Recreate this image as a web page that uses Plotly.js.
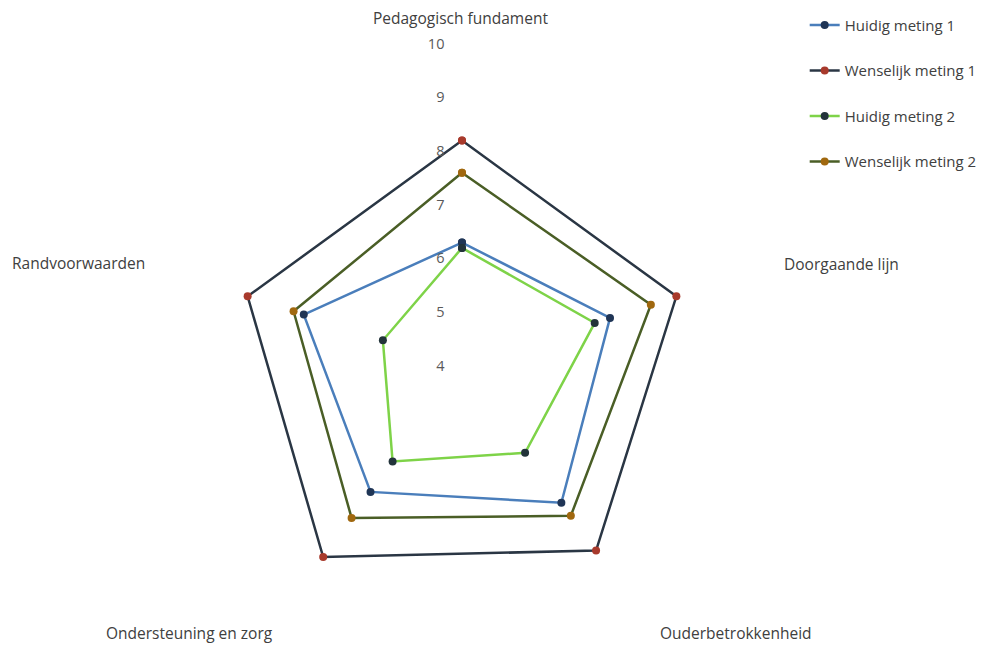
<!DOCTYPE html>
<html>
<head>
<meta charset="utf-8">
<script src="https://cdn.plot.ly/plotly-3.0.1.min.js"></script>
<style>
  html, body { margin: 0; padding: 0; background: #ffffff; overflow: hidden; }
  #wrap { width: 991px; height: 647px; overflow: hidden; position: relative; }
  #chart { width: 991px; height: 720px; }
</style>
</head>
<body>
<div id="wrap"><div id="chart"></div></div>
<script>
// Categories (clockwise from top)
const categories = ["Pedagogisch fundament", "Doorgaande lijn", "Ouderbetrokkenheid", "Ondersteuning en zorg", "Randvoorwaarden"];

// Series values
const huidig1 = [6.3, 6.9, 7.15, 6.9, 7.1];
const wenselijk1 = [8.2, 8.2, 8.25, 8.4, 8.2];
const huidig2 = [6.2, 6.6, 6.0, 6.2, 5.55];
const wenselijk2 = [7.6, 7.7, 7.45, 7.5, 7.3];

// Radial tick labels
const radialTicks = [4, 5, 6, 7, 8, 9, 10];

const H = 720;
// Category label placement (pixels) — layout only
const labelPos = [
  { x: 460, y: 18, xa: 'center' },
  { x: 782, y: 264, xa: 'left' },
  { x: 658, y: 633, xa: 'left' },
  { x: 275, y: 633, xa: 'right' },
  { x: 10, y: 263, xa: 'left' }
];

function closed(arr) { return arr.concat([arr[0]]); }

function series(name, vals, lineColor, markerColor) {
  return {
    type: 'scatterpolar',
    mode: 'lines+markers',
    name: name,
    legendgroup: name,
    r: closed(vals),
    theta: closed(categories),
    line: { color: lineColor, width: 2.5 },
    marker: { color: markerColor, size: 8, line: { width: 0 } },
    hoverinfo: 'skip'
  };
}

const data = [
  series('Huidig meting 1', huidig1, '#4a7ebb', '#1f3556'),
  series('Wenselijk meting 1', wenselijk1, '#2a3644', '#a83a2c'),
  series('Huidig meting 2', huidig2, '#7ed348', '#22333a'),
  series('Wenselijk meting 2', wenselijk2, '#4a5e26', '#a0680f')
];

const annotations = categories.map((c, i) => ({
  text: c,
  xref: 'paper', yref: 'paper',
  x: labelPos[i].x / 991,
  y: 1 - labelPos[i].y / H,
  xanchor: labelPos[i].xa,
  yanchor: 'middle',
  showarrow: false,
  font: { family: 'Open Sans, sans-serif', size: 15.5, color: '#404040' }
}));

const layout = {
  width: 991,
  height: H,
  margin: { l: 0, r: 0, t: 0, b: 0 },
  paper_bgcolor: '#ffffff',
  plot_bgcolor: '#ffffff',
  font: { family: 'Open Sans, sans-serif', color: '#404040' },
  showlegend: true,
  annotations: annotations,
  legend: {
    x: 0.812, xanchor: 'left',
    y: 0.988, yanchor: 'top',
    traceorder: 'grouped',
    tracegroupgap: 23,
    font: { family: 'Open Sans, sans-serif', size: 15, color: '#404040' },
    bgcolor: 'rgba(0,0,0,0)'
  },
  polar: {
    domain: { x: [0.14127, 0.79112], y: [0.04444, 0.93889] },
    bgcolor: '#ffffff',
    angularaxis: {
      type: 'category',
      categoryarray: categories,
      rotation: 90,
      direction: 'clockwise',
      showgrid: false,
      showline: false,
      ticks: '',
      showticklabels: false
    },
    radialaxis: {
      range: [4, 10],
      angle: 90,
      side: 'counterclockwise',
      tickangle: 90,
      tickvals: radialTicks,
      ticktext: radialTicks.map(String),
      showgrid: false,
      showline: false,
      ticks: 'outside',
      ticklen: 12,
      tickcolor: 'rgba(0,0,0,0)',
      tickfont: { family: 'Open Sans, sans-serif', size: 14.5, color: '#595959' }
    }
  }
};

Plotly.newPlot('chart', data, layout, { displayModeBar: false, staticPlot: true });
</script>
</body>
</html>
